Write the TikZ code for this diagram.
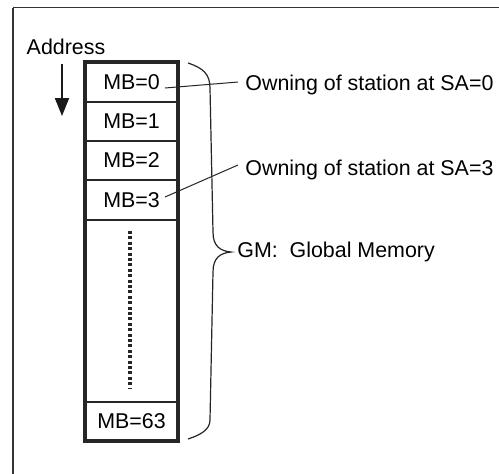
\documentclass[tikz,border=0pt]{standalone}
\usepackage{fontspec}
\setmainfont{Liberation Sans}
\usetikzlibrary{arrows.meta}
\begin{document}
\begin{tikzpicture}[x=0.5pt,y=-0.5pt,
  lbl/.style={font=\fontsize{10.7}{12}\selectfont, inner sep=0pt},
  cell/.style={draw=black!85, line width=1pt, minimum width=46.5pt, inner sep=0pt, font=\fontsize{10.7}{12}\selectfont},
  leader/.style={draw=black!85, line width=0.5pt}]
\useasboundingbox (0,0) rectangle (499,473);
\fill[white] (0,0) rectangle (499,473);
\draw[black!80, line width=0.8pt] (13,7.5) -- (520,7.5);
\draw[black!80, line width=0.8pt] (13,7.5) -- (13,500);
% address
\node[lbl] (addr) at (66,47) {Address};
\coordinate (a1) at (62,64);
\coordinate (a2) at (62,116);
\draw[line width=1pt, black!90, -{Triangle[length=9pt,width=7pt]}] (a1) -- (a2);
% cells
\node[cell, minimum height=20pt] (mb0) at (131.5,82) {MB=0};
\node[cell, minimum height=19.5pt] (mb1) at (131.5,121.5) {MB=1};
\node[cell, minimum height=19.5pt] (mb2) at (131.5,160.5) {MB=2};
\node[cell, minimum height=20pt] (mb3) at (131.5,200) {MB=3};
\node[cell, minimum height=91pt] (dots) at (131.5,311) {};
\node[cell, minimum height=19.5pt] (mb63) at (131.5,421.5) {MB=63};
\draw[line width=1.6pt, black!85] (85,62) rectangle (178,441);
\draw[line width=2pt, dash pattern=on 1.5pt off 1.2pt, black!85] (dots.north)++(-2,12) -- ++(0,157);
% brace
\draw[black!85, line width=0.6pt] (188,63) .. controls (203,68) and (210,74) .. (210,88)
  -- (213,232) .. controls (213,246) and (220,251) .. (231,252)
  .. controls (220,253) and (213,258) .. (213,272)
  -- (210,420) .. controls (210,430) and (200,435) .. (188,439);
\node[lbl, anchor=west] (gm) at (237,252) {GM:\ \ Global Memory};
% labels
\node[lbl, anchor=west] (own0) at (245,85) {Owning of station at SA=0};
\node[lbl, anchor=west] (own3) at (245,170) {Owning of station at SA=3};
\coordinate (l0) at (165,88);
\coordinate (l3) at (165,197);
\draw[leader] (l0) -- ([xshift=-3.5pt,yshift=1.5pt]own0.west);
\draw[leader] (l3) -- ([xshift=-3.5pt,yshift=2.5pt]own3.west);
\end{tikzpicture}
\end{document}
